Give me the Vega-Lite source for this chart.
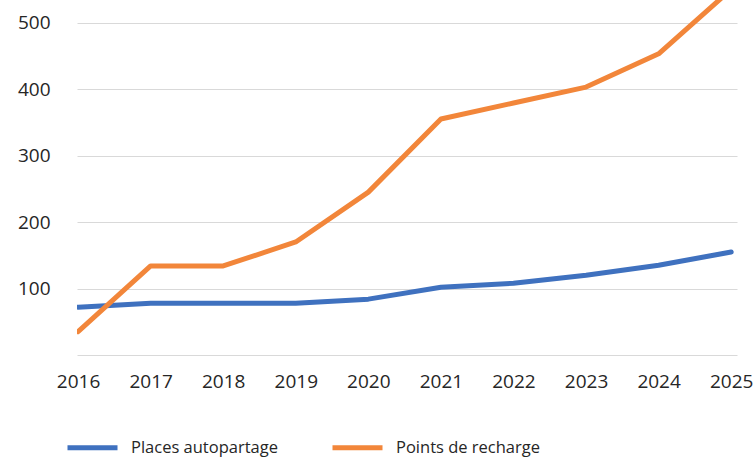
{
  "$schema": "https://vega.github.io/schema/vega-lite/v6.json",
  "width": 660,
  "height": 355,
  "autosize": {"type": "none"},
  "padding": {"left": 77, "top": 0, "right": 19, "bottom": 109},
  "background": "white",
  "config": {
    "font": "Open Sans",
    "view": {"stroke": null}
  },
  "data": {
    "values": [
      {"year": 2016, "series": "Places autopartage", "value": 72},
      {"year": 2017, "series": "Places autopartage", "value": 78},
      {"year": 2018, "series": "Places autopartage", "value": 78},
      {"year": 2019, "series": "Places autopartage", "value": 78},
      {"year": 2020, "series": "Places autopartage", "value": 84},
      {"year": 2021, "series": "Places autopartage", "value": 102},
      {"year": 2022, "series": "Places autopartage", "value": 108},
      {"year": 2023, "series": "Places autopartage", "value": 120},
      {"year": 2024, "series": "Places autopartage", "value": 135},
      {"year": 2025, "series": "Places autopartage", "value": 155},
      {"year": 2016, "series": "Points de recharge", "value": 35},
      {"year": 2017, "series": "Points de recharge", "value": 134},
      {"year": 2018, "series": "Points de recharge", "value": 134},
      {"year": 2019, "series": "Points de recharge", "value": 170},
      {"year": 2020, "series": "Points de recharge", "value": 245},
      {"year": 2021, "series": "Points de recharge", "value": 355},
      {"year": 2022, "series": "Points de recharge", "value": 379},
      {"year": 2023, "series": "Points de recharge", "value": 403},
      {"year": 2024, "series": "Points de recharge", "value": 453},
      {"year": 2025, "series": "Points de recharge", "value": 550}
    ]
  },
  "mark": {"type": "line", "strokeWidth": 5, "strokeCap": "round", "strokeJoin": "round", "clip": true},
  "encoding": {
    "x": {
      "field": "year",
      "type": "quantitative",
      "scale": {"domain": [2015.985, 2025.08], "nice": false, "zero": false},
      "axis": {
        "values": [2016, 2017, 2018, 2019, 2020, 2021, 2022, 2023, 2024, 2025],
        "format": "d",
        "title": null,
        "grid": false,
        "domain": false,
        "ticks": false,
        "labelFontSize": 19,
        "labelColor": "#262626",
        "labelPadding": 17,
        "labelFlush": false
      }
    },
    "y": {
      "field": "value",
      "type": "quantitative",
      "scale": {"domain": [0, 534], "nice": false},
      "axis": {
        "values": [0, 100, 200, 300, 400, 500],
        "labelExpr": "datum.value == 0 ? '' : datum.label",
        "title": null,
        "domain": false,
        "ticks": false,
        "gridColor": "#d9d9d9",
        "gridWidth": 1.2,
        "labelFontSize": 19,
        "labelColor": "#262626",
        "labelPadding": 27,
        "labelFlush": false
      }
    },
    "color": {
      "field": "series",
      "type": "nominal",
      "scale": {"domain": ["Places autopartage", "Points de recharge"], "range": ["#3F71BF", "#F2863A"]},
      "legend": {
        "title": null,
        "orient": "none",
        "direction": "horizontal",
        "legendX": -12,
        "legendY": 420,
        "symbolType": "stroke",
        "symbolSize": 2500,
        "symbolStrokeWidth": 5,
        "labelFontSize": 16.5,
        "labelColor": "#262626",
        "labelOffset": 11,
        "columnPadding": 44
      }
    }
  }
}
